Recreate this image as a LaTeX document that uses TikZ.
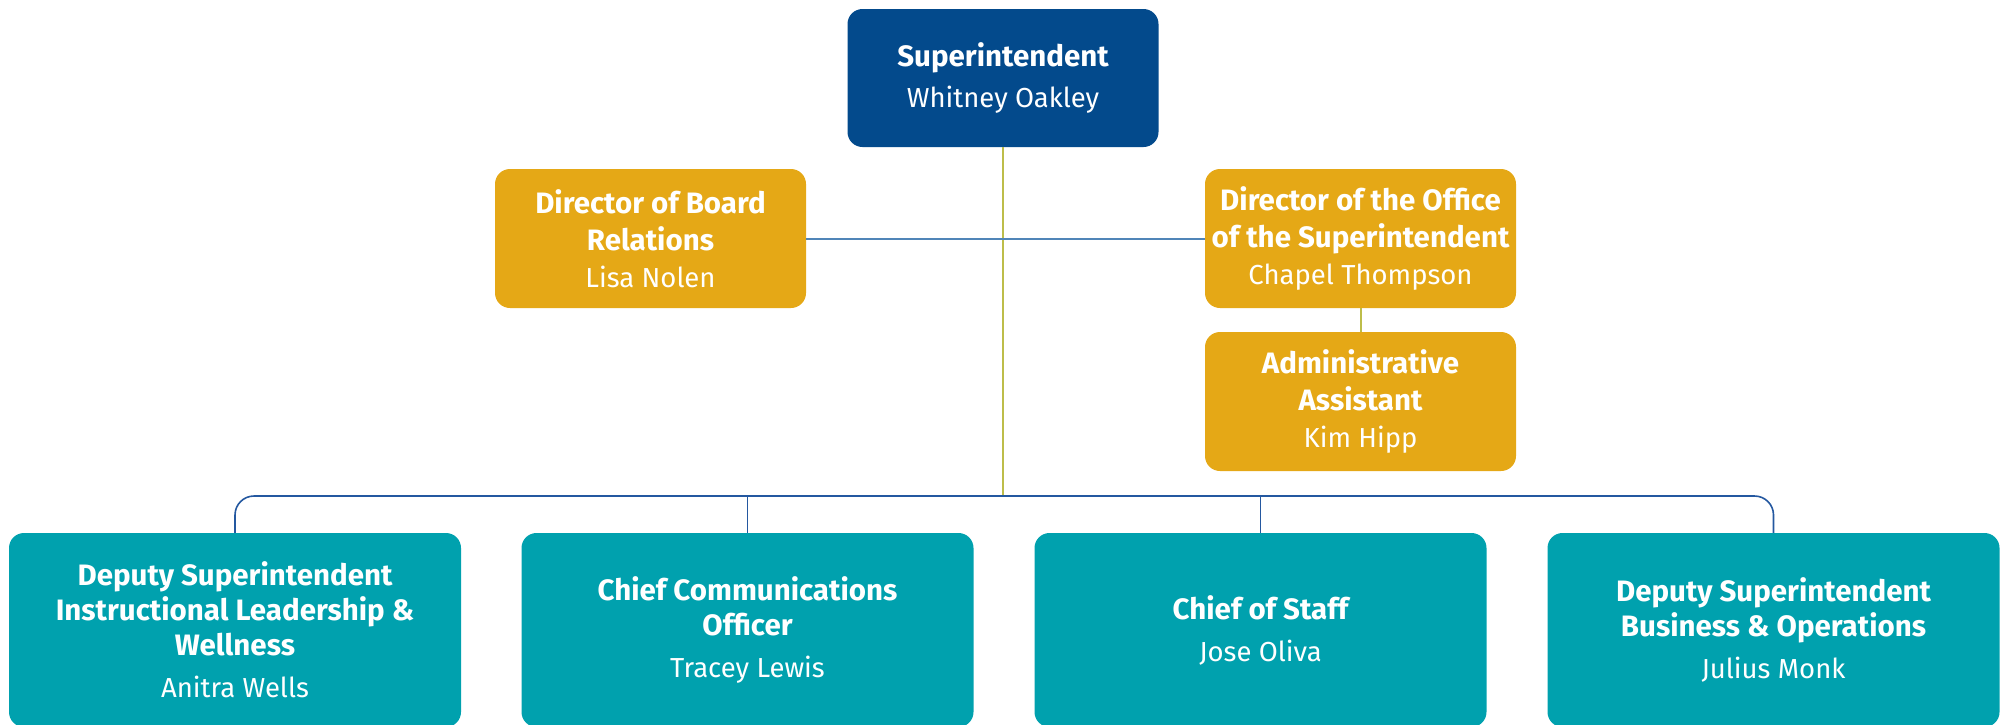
\documentclass[tikz,border=0pt]{standalone}
\usepackage{fontspec}
\setmainfont{Fira Sans}
\definecolor{supblue}{HTML}{034A8C}
\definecolor{gold}{HTML}{E5A816}
\definecolor{teal}{HTML}{00A1AE}
\definecolor{oliveline}{HTML}{BDBD4A}
\definecolor{steelline}{HTML}{5085B8}
\definecolor{navyline}{HTML}{2458A0}
\newcommand{\ttl}[1]{{\fontsize{29.5}{37}\selectfont\bfseries #1}}
\newcommand{\nm}[1]{{\fontsize{27.5}{37}\selectfont #1}}
\tikzset{
  box/.style={rounded corners=15pt, minimum width=311pt, minimum height=139pt,
    align=center, text=white, inner sep=0pt,
    font=\fontsize{28}{37}\selectfont},
  supbox/.style={box, fill=supblue, minimum height=138pt},
  goldbox/.style={box, fill=gold},
  tealbox/.style={box, fill=teal, minimum width=452pt, minimum height=194pt,
    font=\fontsize{28}{35}\selectfont},
  olivecon/.style={draw=oliveline, line width=2pt},
  steelcon/.style={draw=steelline, line width=2pt},
  navycon/.style={draw=navyline, line width=1.6pt},
}
\begin{document}
\begin{tikzpicture}[x=1pt,y=-1pt]
\useasboundingbox (0,0) rectangle (2001,724);
\node[supbox] (sup) at (1003,78) {\ttl{Superintendent}\\[4pt]\nm{Whitney Oakley}};
\node[goldbox] (dbr) at (650.5,238.5) {\ttl{Director of Board}\\\ttl{Relations}\\\nm{Lisa Nolen}};
\node[goldbox] (dos) at (1360.5,238.5) {\ttl{Director of the Office}\\\ttl{of the Superintendent}\\\nm{Chapel Thompson}};
\node[goldbox] (adm) at (1360.5,401.5) {\ttl{Administrative}\\\ttl{Assistant}\\\nm{Kim Hipp}};
\node[tealbox] (b1) at (235,630) {\ttl{Deputy Superintendent}\\\ttl{Instructional Leadership \&}\\\ttl{Wellness}\\[7pt]\nm{Anitra Wells}};
\node[tealbox] (b2) at (747.5,630) {\ttl{Chief Communications}\\\ttl{Officer}\\[7pt]\nm{Tracey Lewis}};
\node[tealbox] (b3) at (1260.5,630) {\ttl{Chief of Staff}\\[7pt]\nm{Jose Oliva}};
\node[tealbox] (b4) at (1773.5,630) {\ttl{Deputy Superintendent}\\\ttl{Business \& Operations}\\[7pt]\nm{Julius Monk}};
\coordinate (bus) at (1002,496);
\draw[olivecon] (sup.south) -- (sup.south |- bus);
\draw[steelcon] (dbr.east) -- (dos.west);
\draw[olivecon] (dos.south) -- (adm.north);
\draw[navycon, rounded corners=19pt] (b1.north) |- (bus) -| (b4.north);
\draw[navycon] (b2.north) -- (b2.north |- bus);
\draw[navycon] (b3.north) -- (b3.north |- bus);
\end{tikzpicture}
\end{document}
